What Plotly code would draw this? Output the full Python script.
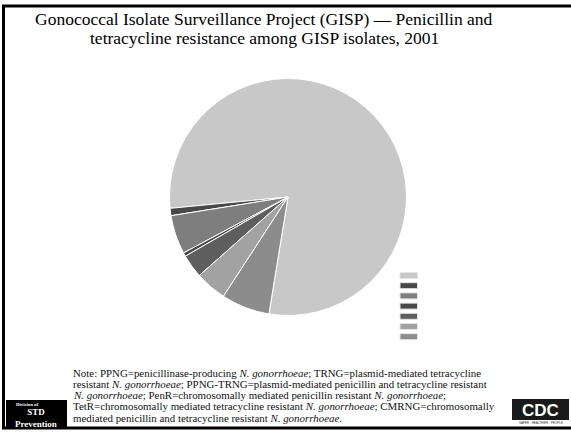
import plotly.graph_objects as go

# Resistance categories and share of isolates (%)
categories = ["Susceptible", "PPNG", "TRNG", "PPNG-TRNG", "PenR", "TetR", "CMRNG"]
shares = [79.1, 1.0, 5.3, 0.5, 3.2, 4.3, 6.6]
colors = ["#c8c8c8", "#484848", "#7e7e7e", "#484848", "#5e5e5e", "#a2a2a2", "#8c8c8c"]

title_lines = [
    "Gonococcal Isolate Surveillance Project (GISP) \u2014 Penicillin and",
    "tetracycline resistance among GISP isolates, 2001",
]
note_lines = [
    "Note: PPNG=penicillinase-producing <i>N. gonorrhoeae</i>; TRNG=plasmid-mediated tetracycline",
    "resistant <i>N. gonorrhoeae</i>; PPNG-TRNG=plasmid-mediated penicillin and tetracycline resistant",
    "<i>N. gonorrhoeae</i>; PenR=chromosomally mediated penicillin resistant <i>N. gonorrhoeae</i>;",
    "TetR=chromosomally mediated tetracycline resistant <i>N. gonorrhoeae</i>; CMRNG=chromosomally",
    "mediated penicillin and tetracycline resistant <i>N. gonorrhoeae</i>.",
]

W, H = 571, 432
serif = "Liberation Serif"
sans = "Liberation Sans"

# pie placement in pixels
cx, cy, r = 288, 197, 118.5

fig = go.Figure(
    go.Pie(
        labels=categories,
        values=shares,
        sort=False,
        direction="counterclockwise",
        rotation=-95.5,
        marker=dict(colors=colors, line=dict(color="white", width=1)),
        textinfo="none",
        hoverinfo="label+percent",
        showlegend=False,
        domain=dict(x=[(cx - r) / W, (cx + r) / W], y=[1 - (cy + r) / H, 1 - (cy - r) / H]),
    )
)

shapes = []
annotations = []

# slide frame
shapes.append(dict(type="rect", xref="paper", yref="paper",
                   x0=3.5 / W, x1=1.02, y0=1 - 428 / H, y1=1 - 6 / H,
                   line=dict(color="black", width=3), fillcolor="rgba(0,0,0,0)"))

# colour key swatches
for i, c in enumerate(colors):
    top = 272.5 + i * 10.2
    shapes.append(dict(type="rect", xref="paper", yref="paper",
                       x0=400 / W, x1=417.5 / W, y0=1 - (top + 6) / H, y1=1 - top / H,
                       line=dict(color="#e4e4e4", width=1), fillcolor=c))

# title
for i, t in enumerate(title_lines):
    annotations.append(dict(text=t, xref="paper", yref="paper", x=264 / W, y=1 - (19 + i * 18.5) / H,
                            xanchor="center", yanchor="middle", showarrow=False,
                            font=dict(family=serif, size=17.5, color="black")))

# footnote
for i, t in enumerate(note_lines):
    annotations.append(dict(text=t, xref="paper", yref="paper", x=70.5 / W, y=1 - (372.5 + i * 11.3) / H,
                            xanchor="left", yanchor="middle", showarrow=False,
                            font=dict(family=serif, size=10.9, color="#111")))

# Division of STD Prevention badge
shapes.append(dict(type="rect", xref="paper", yref="paper",
                   x0=6 / W, x1=67 / W, y0=1 - 427 / H, y1=1 - 400 / H,
                   line=dict(width=0), fillcolor="black"))
annotations.append(dict(text="<b>Division of</b>", xref="paper", yref="paper", x=27.5 / W, y=1 - 404.3 / H,
                        xanchor="center", yanchor="middle", showarrow=False,
                        font=dict(family=serif, size=4.8, color="white")))
annotations.append(dict(text="<b>STD</b><br><b>Prevention</b>", xref="paper", yref="paper",
                        x=36 / W, y=1 - 418.3 / H, xanchor="center", yanchor="middle", showarrow=False,
                        font=dict(family=serif, size=9, color="white")))

# CDC badge
shapes.append(dict(type="rect", xref="paper", yref="paper",
                   x0=512 / W, x1=569 / W, y0=1 - 420 / H, y1=1 - 399 / H,
                   line=dict(width=0), fillcolor="#1a1a1a"))
annotations.append(dict(text="<b>CDC</b>", xref="paper", yref="paper", x=540.5 / W, y=1 - 410 / H,
                        xanchor="center", yanchor="middle", showarrow=False,
                        font=dict(family=sans, size=17, color="white")))
annotations.append(dict(text="SAFER \u00b7 HEALTHIER \u00b7 PEOPLE", xref="paper", yref="paper",
                        x=540.5 / W, y=1 - 423 / H, xanchor="center", yanchor="middle", showarrow=False,
                        font=dict(family=sans, size=3, color="#333")))

fig.update_layout(
    width=W, height=H,
    margin=dict(l=0, r=0, t=0, b=0),
    paper_bgcolor="white",
    plot_bgcolor="white",
    shapes=shapes,
    annotations=annotations,
)

fig.write_html("out.html")
